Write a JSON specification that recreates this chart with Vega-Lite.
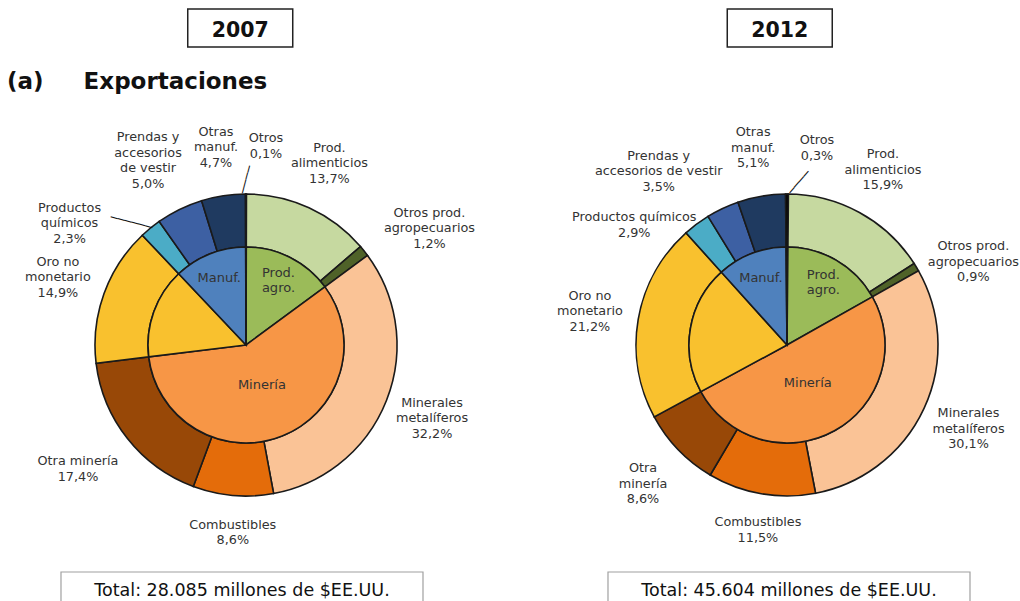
{
  "$schema": "https://vega.github.io/schema/vega-lite/v6.json",
  "padding": {"left": 0, "top": 8, "right": 0, "bottom": 0},
  "spacing": 8,
  "config": {"view": {"stroke": null}, "font": "DejaVu Sans"},
  "datasets": {
    "years": [{"year": "2007"}, {"year": "2012"}],
    "totals": [
      {"year": "2007", "total": "Total: 28.085 millones de $EE.UU."},
      {"year": "2012", "total": "Total: 45.604 millones de $EE.UU."}
    ],
    "pies": [
      {"year": "2007", "ring": "outer", "ord": 1, "cat": "Prod. alimenticios", "pct": 13.7, "label": "Prod.\nalimenticios\n13,7%"},
      {"year": "2007", "ring": "outer", "ord": 2, "cat": "Otros prod. agropecuarios", "pct": 1.2, "label": "Otros prod.\nagropecuarios\n1,2%"},
      {"year": "2007", "ring": "outer", "ord": 3, "cat": "Minerales metalíferos", "pct": 32.2, "label": "Minerales\nmetalíferos\n32,2%"},
      {"year": "2007", "ring": "outer", "ord": 4, "cat": "Combustibles", "pct": 8.6, "label": "Combustibles\n8,6%"},
      {"year": "2007", "ring": "outer", "ord": 5, "cat": "Otra minería", "pct": 17.4, "label": "Otra minería\n17,4%"},
      {"year": "2007", "ring": "outer", "ord": 6, "cat": "Oro no monetario", "pct": 14.9, "label": "Oro no\nmonetario\n14,9%"},
      {"year": "2007", "ring": "outer", "ord": 7, "cat": "Productos químicos", "pct": 2.3, "label": "Productos\nquímicos\n2,3%"},
      {"year": "2007", "ring": "outer", "ord": 8, "cat": "Prendas y accesorios de vestir", "pct": 5.0, "label": "Prendas y\naccesorios\nde vestir\n5,0%"},
      {"year": "2007", "ring": "outer", "ord": 9, "cat": "Otras manuf.", "pct": 4.7, "label": "Otras\nmanuf.\n4,7%"},
      {"year": "2007", "ring": "outer", "ord": 10, "cat": "Otros", "pct": 0.1, "label": "Otros\n0,1%"},
      {"year": "2007", "ring": "inner", "ord": 1, "cat": "Prod. agro.", "pct": 14.9, "label": "Prod.\nagro."},
      {"year": "2007", "ring": "inner", "ord": 2, "cat": "Minería", "pct": 58.2, "label": "Minería"},
      {"year": "2007", "ring": "inner", "ord": 3, "cat": "Oro no monetario", "pct": 14.9, "label": ""},
      {"year": "2007", "ring": "inner", "ord": 4, "cat": "Manuf.", "pct": 12.0, "label": "Manuf."},
      {"year": "2007", "ring": "inner", "ord": 5, "cat": "Otros", "pct": 0.1, "label": ""},
      {"year": "2012", "ring": "outer", "ord": 1, "cat": "Prod. alimenticios", "pct": 15.9, "label": "Prod.\nalimenticios\n15,9%"},
      {"year": "2012", "ring": "outer", "ord": 2, "cat": "Otros prod. agropecuarios", "pct": 0.9, "label": "Otros prod.\nagropecuarios\n0,9%"},
      {"year": "2012", "ring": "outer", "ord": 3, "cat": "Minerales metalíferos", "pct": 30.1, "label": "Minerales\nmetalíferos\n30,1%"},
      {"year": "2012", "ring": "outer", "ord": 4, "cat": "Combustibles", "pct": 11.5, "label": "Combustibles\n11,5%"},
      {"year": "2012", "ring": "outer", "ord": 5, "cat": "Otra minería", "pct": 8.6, "label": "Otra\nminería\n8,6%"},
      {"year": "2012", "ring": "outer", "ord": 6, "cat": "Oro no monetario", "pct": 21.2, "label": "Oro no\nmonetario\n21,2%"},
      {"year": "2012", "ring": "outer", "ord": 7, "cat": "Productos químicos", "pct": 2.9, "label": "Productos químicos\n2,9%"},
      {"year": "2012", "ring": "outer", "ord": 8, "cat": "Prendas y accesorios de vestir", "pct": 3.5, "label": "Prendas y\naccesorios de vestir\n3,5%"},
      {"year": "2012", "ring": "outer", "ord": 9, "cat": "Otras manuf.", "pct": 5.1, "label": "Otras\nmanuf.\n5,1%"},
      {"year": "2012", "ring": "outer", "ord": 10, "cat": "Otros", "pct": 0.3, "label": "Otros\n0,3%"},
      {"year": "2012", "ring": "inner", "ord": 1, "cat": "Prod. agro.", "pct": 16.8, "label": "Prod.\nagro."},
      {"year": "2012", "ring": "inner", "ord": 2, "cat": "Minería", "pct": 50.2, "label": "Minería"},
      {"year": "2012", "ring": "inner", "ord": 3, "cat": "Oro no monetario", "pct": 21.2, "label": ""},
      {"year": "2012", "ring": "inner", "ord": 4, "cat": "Manuf.", "pct": 11.5, "label": "Manuf."},
      {"year": "2012", "ring": "inner", "ord": 5, "cat": "Otros", "pct": 0.3, "label": ""}
    ]
  },
  "vconcat": [
    {
      "bounds": "flush",
      "spacing": 80,
      "vconcat": [
        {
          "width": 1020,
          "height": 38,
          "data": {"name": "years"},
          "layer": [
            {
              "mark": {"type": "rect", "fill": "white", "stroke": "#222222", "strokeWidth": 1.5},
              "encoding": {
                "x": {"field": "year", "type": "nominal", "axis": null,
                      "scale": {"type": "band", "paddingInner": 0.8054, "paddingOuter": 0.348, "align": 0.5}}
              }
            },
            {
              "mark": {"type": "text", "fontSize": 20.5, "fontWeight": "bold", "color": "#111111", "dy": 3},
              "encoding": {
                "x": {"field": "year", "type": "nominal", "axis": null},
                "text": {"field": "year"}
              }
            }
          ]
        },
        {
          "data": {"name": "pies"},
          "transform": [
            {"stack": "pct", "groupby": ["year", "ring"], "sort": [{"field": "ord", "order": "ascending"}], "as": ["t0", "t1"]}
          ],
          "title": {"text": "(a)\u00a0\u00a0\u00a0\u00a0\u00a0Exportaciones", "anchor": "start", "frame": "group", "fontSize": 23, "fontWeight": "bold", "color": "#111111", "baseline": "alphabetic", "offset": 14, "dx": 7},
          "facet": {"column": {"field": "year", "type": "nominal", "header": null}},
          "spacing": 49,
          "resolve": {"scale": {"theta": "independent"}},
          "spec": {
            "width": 492,
            "height": 436,
            "layer": [
              {
                "transform": [{"filter": "datum.ring == 'outer'"}],
                "mark": {"type": "arc", "radius": 151, "radius2": 98, "stroke": "#1a1a1a", "strokeWidth": 1.6},
                "encoding": {
                  "theta": {"field": "t0", "type": "quantitative", "stack": null},
                  "theta2": {"field": "t1"},
                  "color": {"field": "cat", "type": "nominal", "legend": null,
                    "scale": {
                      "domain": ["Prod. alimenticios", "Otros prod. agropecuarios", "Minerales metalíferos", "Combustibles", "Otra minería", "Oro no monetario", "Productos químicos", "Prendas y accesorios de vestir", "Otras manuf.", "Otros", "Prod. agro.", "Minería", "Manuf."],
                      "range": ["#c6d9a0", "#4f6228", "#fac396", "#e46c0a", "#984807", "#f9c12e", "#4bacc6", "#3d60a3", "#1f3a60", "#000000", "#9bbb59", "#f79646", "#4f81bd"]
                    }
                  }
                }
              },
              {
                "transform": [{"filter": "datum.ring == 'inner'"}],
                "mark": {"type": "arc", "radius": 98, "radius2": 0, "stroke": "#1a1a1a", "strokeWidth": 1.6},
                "encoding": {
                  "theta": {"field": "t0", "type": "quantitative", "stack": null},
                  "theta2": {"field": "t1"},
                  "color": {"field": "cat", "type": "nominal", "legend": null}
                }
              },
              {
                "transform": [
                  {"filter": "datum.ring == 'inner' && datum.cat == 'Prod. agro.'"},
                  {"fold": ["t0", "t1"], "as": ["k", "v"]},
                  {"aggregate": [{"op": "mean", "field": "v", "as": "mid"}], "groupby": ["year", "cat", "label"]}
                ],
                "mark": {"type": "text", "radius": 72, "dy": -7.5, "fontSize": 13, "lineHeight": 15, "lineBreak": "\n", "color": "#333333"},
                "encoding": {"theta": {"field": "mid", "type": "quantitative", "stack": null}, "text": {"field": "label"}}
              },
              {
                "transform": [
                  {"filter": "datum.ring == 'inner' && datum.cat == 'Manuf.'"},
                  {"fold": ["t0", "t1"], "as": ["k", "v"]},
                  {"aggregate": [{"op": "mean", "field": "v", "as": "mid"}], "groupby": ["year", "cat", "label"]}
                ],
                "mark": {"type": "text", "radius": 72, "fontSize": 13, "color": "#333333"},
                "encoding": {"theta": {"field": "mid", "type": "quantitative", "stack": null}, "text": {"field": "label"}}
              },
              {
                "transform": [
                  {"filter": "datum.ring == 'inner' && datum.cat == 'Minería'"},
                  {"fold": ["t0", "t1"], "as": ["k", "v"]},
                  {"aggregate": [{"op": "mean", "field": "v", "as": "mid"}], "groupby": ["year", "cat", "label"]}
                ],
                "mark": {"type": "text", "radius": 43, "fontSize": 13, "color": "#333333"},
                "encoding": {"theta": {"field": "mid", "type": "quantitative", "stack": null}, "text": {"field": "label"}}
              },
              {
                "transform": [
                  {"filter": "datum.ring == 'outer' && indexof(['Combustibles', 'Otros prod. agropecuarios', 'Productos químicos', 'Otros', 'Prendas y accesorios de vestir'], datum.cat) < 0 && !(datum.year == '2007' && datum.cat == 'Otra minería')"},
                  {"fold": ["t0", "t1"], "as": ["k", "v"]},
                  {"aggregate": [{"op": "mean", "field": "v", "as": "mid"}], "groupby": ["year", "cat", "label"]}
                ],
                "mark": {"type": "text", "radius": 200, "dy": -15.5, "fontSize": 12.8, "lineHeight": 15.5, "lineBreak": "\n", "color": "#333333"},
                "encoding": {"theta": {"field": "mid", "type": "quantitative", "stack": null}, "text": {"field": "label"}}
              },
              {
                "transform": [
                  {"filter": "datum.ring == 'outer' && datum.year == '2007' && datum.cat == 'Otra minería'"},
                  {"fold": ["t0", "t1"], "as": ["k", "v"]},
                  {"aggregate": [{"op": "mean", "field": "v", "as": "mid"}], "groupby": ["year", "cat", "label"]}
                ],
                "mark": {"type": "text", "radius": 200, "dx": -11, "dy": -7.75, "fontSize": 12.8, "lineHeight": 15.5, "lineBreak": "\n", "color": "#333333"},
                "encoding": {"theta": {"field": "mid", "type": "quantitative", "stack": null}, "text": {"field": "label"}}
              },
              {
                "transform": [
                  {"filter": "datum.ring == 'outer' && datum.cat == 'Combustibles'"},
                  {"fold": ["t0", "t1"], "as": ["k", "v"]},
                  {"aggregate": [{"op": "mean", "field": "v", "as": "mid"}], "groupby": ["year", "cat", "label"]}
                ],
                "mark": {"type": "text", "radius": 188, "dx": 3, "dy": -7.75, "fontSize": 12.8, "lineHeight": 15.5, "lineBreak": "\n", "color": "#333333"},
                "encoding": {"theta": {"field": "mid", "type": "quantitative", "stack": null}, "text": {"field": "label"}}
              },
              {
                "transform": [
                  {"filter": "datum.ring == 'outer' && datum.year == '2007' && datum.cat == 'Otros prod. agropecuarios'"},
                  {"fold": ["t0", "t1"], "as": ["k", "v"]},
                  {"aggregate": [{"op": "mean", "field": "v", "as": "mid"}], "groupby": ["year", "cat", "label"]}
                ],
                "mark": {"type": "text", "radius": 200, "dx": 27, "dy": -7.5, "fontSize": 12.8, "lineHeight": 15.5, "lineBreak": "\n", "color": "#333333"},
                "encoding": {"theta": {"field": "mid", "type": "quantitative", "stack": null}, "text": {"field": "label"}}
              },
              {
                "transform": [
                  {"filter": "datum.ring == 'outer' && datum.year == '2012' && datum.cat == 'Otros prod. agropecuarios'"},
                  {"fold": ["t0", "t1"], "as": ["k", "v"]},
                  {"aggregate": [{"op": "mean", "field": "v", "as": "mid"}], "groupby": ["year", "cat", "label"]}
                ],
                "mark": {"type": "text", "radius": 200, "dx": 15, "dy": 4.5, "fontSize": 12.8, "lineHeight": 15.5, "lineBreak": "\n", "color": "#333333"},
                "encoding": {"theta": {"field": "mid", "type": "quantitative", "stack": null}, "text": {"field": "label"}}
              },
              {
                "transform": [
                  {"filter": "datum.ring == 'outer' && datum.year == '2007' && datum.cat == 'Productos químicos'"},
                  {"fold": ["t0", "t1"], "as": ["k", "v"]},
                  {"aggregate": [{"op": "mean", "field": "v", "as": "mid"}], "groupby": ["year", "cat", "label"]}
                ],
                "mark": {"type": "text", "radius": 200, "dx": -50, "dy": 17.5, "fontSize": 12.8, "lineHeight": 15.5, "lineBreak": "\n", "color": "#333333"},
                "encoding": {"theta": {"field": "mid", "type": "quantitative", "stack": null}, "text": {"field": "label"}}
              },
              {
                "transform": [
                  {"filter": "datum.ring == 'outer' && datum.year == '2012' && datum.cat == 'Productos químicos'"},
                  {"fold": ["t0", "t1"], "as": ["k", "v"]},
                  {"aggregate": [{"op": "mean", "field": "v", "as": "mid"}], "groupby": ["year", "cat", "label"]}
                ],
                "mark": {"type": "text", "radius": 200, "dx": -33, "dy": 32.25, "fontSize": 12.8, "lineHeight": 15.5, "lineBreak": "\n", "color": "#333333"},
                "encoding": {"theta": {"field": "mid", "type": "quantitative", "stack": null}, "text": {"field": "label"}}
              },
              {
                "transform": [
                  {"filter": "datum.ring == 'outer' && datum.year == '2007' && datum.cat == 'Prendas y accesorios de vestir'"},
                  {"fold": ["t0", "t1"], "as": ["k", "v"]},
                  {"aggregate": [{"op": "mean", "field": "v", "as": "mid"}], "groupby": ["year", "cat", "label"]}
                ],
                "mark": {"type": "text", "radius": 200, "dx": -10, "dy": -28.25, "fontSize": 12.8, "lineHeight": 15.5, "lineBreak": "\n", "color": "#333333"},
                "encoding": {"theta": {"field": "mid", "type": "quantitative", "stack": null}, "text": {"field": "label"}}
              },
              {
                "transform": [
                  {"filter": "datum.ring == 'outer' && datum.year == '2012' && datum.cat == 'Prendas y accesorios de vestir'"},
                  {"fold": ["t0", "t1"], "as": ["k", "v"]},
                  {"aggregate": [{"op": "mean", "field": "v", "as": "mid"}], "groupby": ["year", "cat", "label"]}
                ],
                "mark": {"type": "text", "radius": 200, "dx": -43, "dy": -8.5, "fontSize": 12.8, "lineHeight": 15.5, "lineBreak": "\n", "color": "#333333"},
                "encoding": {"theta": {"field": "mid", "type": "quantitative", "stack": null}, "text": {"field": "label"}}
              },
              {
                "transform": [
                  {"filter": "datum.ring == 'outer' && datum.year == '2007' && datum.cat == 'Otros'"},
                  {"fold": ["t0", "t1"], "as": ["k", "v"]},
                  {"aggregate": [{"op": "mean", "field": "v", "as": "mid"}], "groupby": ["year", "cat", "label"]}
                ],
                "mark": {"type": "text", "radius": 200, "dx": 20, "dy": -6.75, "fontSize": 12.8, "lineHeight": 15.5, "lineBreak": "\n", "color": "#333333"},
                "encoding": {"theta": {"field": "mid", "type": "quantitative", "stack": null}, "text": {"field": "label"}}
              },
              {
                "transform": [
                  {"filter": "datum.ring == 'outer' && datum.year == '2012' && datum.cat == 'Otros'"},
                  {"fold": ["t0", "t1"], "as": ["k", "v"]},
                  {"aggregate": [{"op": "mean", "field": "v", "as": "mid"}], "groupby": ["year", "cat", "label"]}
                ],
                "mark": {"type": "text", "radius": 200, "dx": 30, "dy": -4.75, "fontSize": 12.8, "lineHeight": 15.5, "lineBreak": "\n", "color": "#333333"},
                "encoding": {"theta": {"field": "mid", "type": "quantitative", "stack": null}, "text": {"field": "label"}}
              },
              {
                "transform": [
                  {"filter": "datum.ring == 'outer' && datum.year == '2007' && datum.cat == 'Otros'"},
                  {"fold": ["t0", "t1"], "as": ["k", "v"]},
                  {"aggregate": [{"op": "mean", "field": "v", "as": "mid"}], "groupby": ["year", "cat"]}
                ],
                "mark": {"type": "text", "radius": 165.5, "angle": -75.5, "font": "DejaVu Sans Mono", "fontSize": 11.8, "color": "#111111"},
                "encoding": {"theta": {"field": "mid", "type": "quantitative", "stack": null}, "text": {"value": "────"}}
              },
              {
                "transform": [
                  {"filter": "datum.ring == 'outer' && datum.year == '2012' && datum.cat == 'Otros'"},
                  {"fold": ["t0", "t1"], "as": ["k", "v"]},
                  {"aggregate": [{"op": "mean", "field": "v", "as": "mid"}], "groupby": ["year", "cat"]}
                ],
                "mark": {"type": "text", "radius": 163, "angle": -49.2, "dx": 7.8, "dy": 9.1, "font": "DejaVu Sans Mono", "fontSize": 11.8, "color": "#111111"},
                "encoding": {"theta": {"field": "mid", "type": "quantitative", "stack": null}, "text": {"value": "────"}}
              },
              {
                "transform": [
                  {"filter": "datum.ring == 'outer' && datum.year == '2007' && datum.cat == 'Productos químicos'"},
                  {"fold": ["t0", "t1"], "as": ["k", "v"]},
                  {"aggregate": [{"op": "mean", "field": "v", "as": "mid"}], "groupby": ["year", "cat"]}
                ],
                "mark": {"type": "text", "radius": 168, "angle": 14.7, "dx": -6.2, "dy": 9.2, "font": "DejaVu Sans Mono", "fontSize": 11.8, "color": "#111111"},
                "encoding": {"theta": {"field": "mid", "type": "quantitative", "stack": null}, "text": {"value": "──────"}}
              }
            ]
          }
        }
      ]
    },
    {
      "width": 1020,
      "height": 40,
      "data": {"name": "totals"},
      "layer": [
        {
          "mark": {"type": "rect", "fill": "white", "stroke": "#a0a0a0", "strokeWidth": 1.2},
          "encoding": {
            "x": {"field": "year", "type": "nominal", "axis": null,
                  "scale": {"type": "band", "paddingInner": 0.3382, "paddingOuter": 0.10146, "align": 0.5495}}
          }
        },
        {
          "mark": {"type": "text", "fontSize": 17.5, "color": "#111111", "dy": -1},
          "encoding": {
            "x": {"field": "year", "type": "nominal", "axis": null},
            "text": {"field": "total"}
          }
        }
      ]
    }
  ]
}
